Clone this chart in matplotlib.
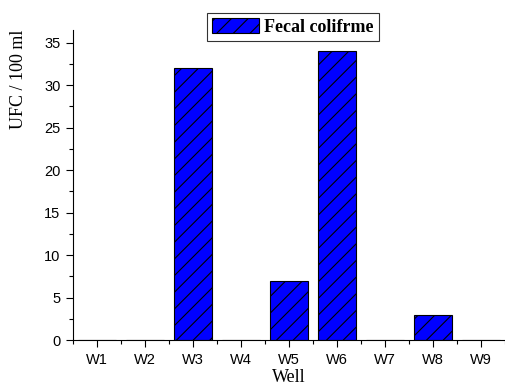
import matplotlib.pyplot as plt
from matplotlib.ticker import MultipleLocator, AutoMinorLocator

wells = ["W1", "W2", "W3", "W4", "W5", "W6", "W7", "W8", "W9"]
fecal_coliform = [0, 0, 32, 0, 7, 34, 0, 3, 0]

plt.rcParams['hatch.linewidth'] = 0.8

fig = plt.figure(figsize=(5.06, 3.88), dpi=100)
ax = fig.add_axes([73 / 506, 48 / 388, 432 / 506, 310 / 388])

x = list(range(1, len(wells) + 1))
ax.bar(x, fecal_coliform, width=0.8, color='#0000ff', edgecolor='black',
       linewidth=0.8, hatch='//', label='Fecal colifrme')

ax.set_xlim(0.5, 9.5)
ax.set_ylim(0, 36.5)
ax.set_xticks(x)
ax.set_xticklabels(wells, family='Liberation Sans', fontsize=10.5)
ax.xaxis.set_minor_locator(MultipleLocator(0.5))
ax.yaxis.set_major_locator(MultipleLocator(5))
ax.yaxis.set_minor_locator(AutoMinorLocator(2))
for lab in ax.get_yticklabels():
    lab.set_family('Liberation Sans')
    lab.set_fontsize(10.5)
ax.tick_params(which='major', direction='out', length=5, width=0.8, pad=4)
ax.tick_params(which='minor', direction='out', length=3, width=0.8)

ax.spines['top'].set_visible(False)
ax.spines['right'].set_visible(False)

ax.set_xlabel('Well', family='Liberation Serif', fontsize=13, labelpad=2)
ax.set_ylabel('UFC / 100 ml', family='Liberation Serif', fontsize=13,
              loc='top', labelpad=12)

leg = fig.legend(loc='center', bbox_to_anchor=(293 / 506, 1 - 27 / 388),
                 prop={'family': 'Liberation Serif', 'weight': 'bold', 'size': 13},
                 frameon=True, fancybox=False, edgecolor='black',
                 handlelength=2.6, handleheight=0.9, borderpad=0.3,
                 handletextpad=0.3, borderaxespad=0)
leg.get_frame().set_linewidth(0.8)

fig.savefig('out.png', dpi=100)
